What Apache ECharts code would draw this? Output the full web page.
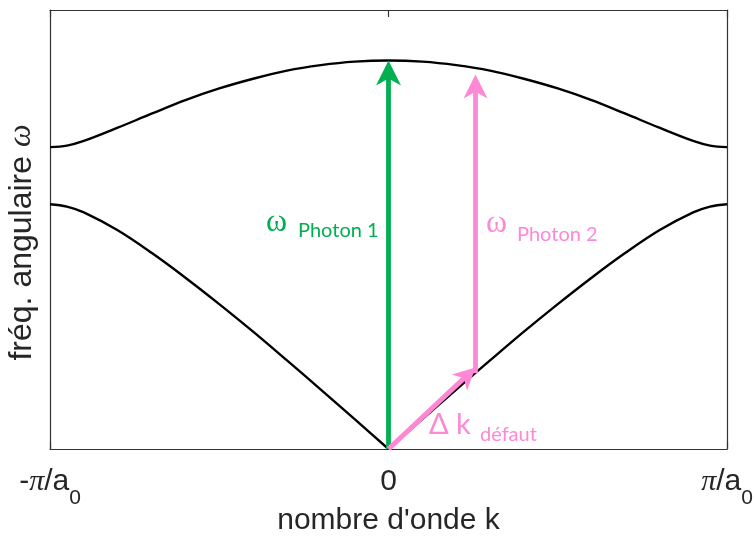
<!DOCTYPE html>
<html>
<head>
<meta charset="utf-8">
<script src="https://cdn.jsdelivr.net/npm/echarts@6/dist/echarts.min.js"></script>
<style>
  html, body { margin: 0; padding: 0; background: #fff; }
  #chart { width: 755px; height: 542px; }
</style>
</head>
<body>
<div id="chart"></div>
<script>
// Wave number k in units of pi/a0
const kValues = [-1, -0.95, -0.9, -0.8, -0.7, -0.6, -0.5, -0.4, -0.3, -0.2, -0.1, 0,
                 0.1, 0.2, 0.3, 0.4, 0.5, 0.6, 0.7, 0.8, 0.9, 0.95, 1];
// Angular frequency (relative to the optical maximum at k = 0)
const acousticBranch = [0.630, 0.624, 0.609, 0.563, 0.505, 0.441, 0.373, 0.302, 0.228, 0.153, 0.077, 0,
                        0.077, 0.153, 0.228, 0.302, 0.373, 0.441, 0.505, 0.563, 0.609, 0.624, 0.630];
const opticalBranch = [0.777, 0.781, 0.793, 0.827, 0.863, 0.898, 0.928, 0.953, 0.974, 0.988, 0.997, 1.000,
                       0.997, 0.988, 0.974, 0.953, 0.928, 0.898, 0.863, 0.827, 0.793, 0.781, 0.777];
// Arrows: [k start, omega start, k end, omega end]
const photon1Arrow = [0, 0, 0, 1.0];
const defectArrow = [0, 0, 0.257, 0.21];
const photon2Arrow = [0.257, 0.195, 0.257, 0.964];
// Axis ticks and labels
const kTicks = [-1, 0, 1];
const kTickLabels = ['{m|-}{pi|π}{m|/a}{s|0}', '{m|0}', '{pi|π}{m|/a}{s|0}'];
const omegaMax = 1.13;

const zeroIndex = kValues.indexOf(0);
const pairs = (ys, from, to) => kValues.slice(from, to).map((k, i) => [k, ys[from + i]]);

const GREEN = '#00AF50';
const PINK = '#FF88D6';
const FRAME = '#333333';
const TEXT = '#262626';

function arrowRenderer(headLen, headHalf, shaftWidth) {
  return function (params, api) {
    const p0 = api.coord([api.value(0), api.value(1)]);
    const p1 = api.coord([api.value(2), api.value(3)]);
    const color = api.visual('color');
    const dx = p1[0] - p0[0], dy = p1[1] - p0[1];
    const len = Math.hypot(dx, dy);
    const ux = dx / len, uy = dy / len;
    const nx = -uy, ny = ux;
    const notch = headLen * 0.28;
    const bx = p1[0] - ux * headLen, by = p1[1] - uy * headLen;
    const mx = p1[0] - ux * (headLen - notch), my = p1[1] - uy * (headLen - notch);
    return {
      type: 'group',
      children: [
        {
          type: 'line',
          shape: { x1: p0[0], y1: p0[1], x2: mx + ux, y2: my + uy },
          style: { stroke: color, lineWidth: shaftWidth, lineCap: 'butt' }
        },
        {
          type: 'polygon',
          shape: { points: [[p1[0], p1[1]], [bx + nx * headHalf, by + ny * headHalf], [mx, my], [bx - nx * headHalf, by - ny * headHalf]] },
          style: { fill: color }
        }
      ]
    };
  };
}

const chart = echarts.init(document.getElementById('chart'), null, { renderer: 'canvas' });

const curveStyle = { color: '#000', width: 2.4 };
const curveSeries = (data) => ({
  type: 'line', data, smooth: 0.35, showSymbol: false, symbol: 'none',
  lineStyle: curveStyle, silent: true, z: 3
});

chart.setOption({
  animation: false,
  backgroundColor: '#fff',
  grid: { left: 50, right: 28, top: 10, bottom: 93, containLabel: false, outerBoundsMode: 'none' },
  xAxis: [
    {
      type: 'value', min: -1, max: 1, interval: 1, position: 'bottom',
      name: 'nombre d\'onde k', nameLocation: 'middle', nameGap: 57, nameMoveOverlap: false,
      nameTextStyle: { fontFamily: 'Liberation Sans', fontSize: 30, color: TEXT },
      axisLine: { show: true, onZero: false, lineStyle: { color: FRAME, width: 1.2 } },
      axisTick: { show: true, inside: true, length: 7, lineStyle: { color: FRAME, width: 1.2 } },
      splitLine: { show: false },
      axisLabel: {
        margin: 18,
        formatter: (v) => kTickLabels[kTicks.indexOf(v)],
        rich: {
          m: { fontFamily: 'Liberation Sans', fontSize: 30, color: TEXT, lineHeight: 32, verticalAlign: 'top' },
          pi: { fontFamily: 'Liberation Serif', fontStyle: 'italic', fontSize: 30, color: TEXT, lineHeight: 32, verticalAlign: 'top' },
          s: { fontFamily: 'Liberation Sans', fontSize: 21, color: TEXT, lineHeight: 22, verticalAlign: 'top', padding: [21, 0, 0, 0] }
        }
      }
    },
    {
      type: 'value', min: -1, max: 1, interval: 1, position: 'top',
      axisLine: { show: true, onZero: false, lineStyle: { color: FRAME, width: 1.2 } },
      axisTick: { show: true, inside: true, length: 7, lineStyle: { color: FRAME, width: 1.2 } },
      axisLabel: { show: false }, splitLine: { show: false }
    }
  ],
  yAxis: [
    {
      type: 'value', min: 0, max: omegaMax, position: 'left',
      name: '{n|fréq. angulaire }{w|ω}', nameLocation: 'middle', nameGap: 12, nameRotate: 90, nameMoveOverlap: false,
      nameTextStyle: {
        padding: [0, 26, 0, 0],
        rich: {
          n: { fontFamily: 'Liberation Sans', fontSize: 32, color: TEXT },
          w: { fontFamily: 'Liberation Serif', fontStyle: 'italic', fontSize: 32, color: TEXT }
        }
      },
      axisLine: { show: true, onZero: false, lineStyle: { color: FRAME, width: 1.2 } },
      axisTick: { show: false }, axisLabel: { show: false }, splitLine: { show: false }
    },
    {
      type: 'value', min: 0, max: omegaMax, position: 'right',
      axisLine: { show: true, onZero: false, lineStyle: { color: FRAME, width: 1.2 } },
      axisTick: { show: false }, axisLabel: { show: false }, splitLine: { show: false }
    }
  ],
  series: [
    curveSeries(pairs(acousticBranch, 0, zeroIndex + 1)),
    curveSeries(pairs(acousticBranch, zeroIndex, kValues.length)),
    curveSeries(pairs(opticalBranch, 0, kValues.length)),
    {
      type: 'custom', name: 'photon1', data: [photon1Arrow], itemStyle: { color: GREEN },
      encode: { x: [0, 2], y: [1, 3] }, renderItem: arrowRenderer(25, 12.5, 4.8), z: 5, silent: true
    },
    {
      type: 'custom', name: 'defect', data: [defectArrow], itemStyle: { color: PINK },
      encode: { x: [0, 2], y: [1, 3] }, renderItem: arrowRenderer(22, 11, 5), z: 6, silent: true
    },
    {
      type: 'custom', name: 'photon2', data: [photon2Arrow], itemStyle: { color: PINK },
      encode: { x: [0, 2], y: [1, 3] }, renderItem: arrowRenderer(24, 12, 4.8), z: 5, silent: true
    }
  ],
  graphic: [
    { type: 'text', x: 266, y: 223, z: 10, style: { text: 'ω', font: '32px "Liberation Serif"', fill: GREEN, verticalAlign: 'middle' } },
    { type: 'text', x: 298, y: 231, z: 10, style: { text: 'Photon 1', font: '20px Lato', fill: GREEN, verticalAlign: 'middle' } },
    { type: 'text', x: 486, y: 224, z: 10, style: { text: 'ω', font: '32px "Liberation Serif"', fill: PINK, verticalAlign: 'middle' } },
    { type: 'text', x: 517, y: 235, z: 10, style: { text: 'Photon 2', font: '20px Lato', fill: PINK, verticalAlign: 'middle' } },
    { type: 'text', x: 429, y: 425, z: 10, style: { text: 'Δ k', font: '29px Lato', fill: PINK, verticalAlign: 'middle' } },
    { type: 'text', x: 480, y: 435, z: 10, style: { text: 'défaut', font: '20px Lato', fill: PINK, verticalAlign: 'middle' } }
  ]
});
</script>
</body>
</html>
